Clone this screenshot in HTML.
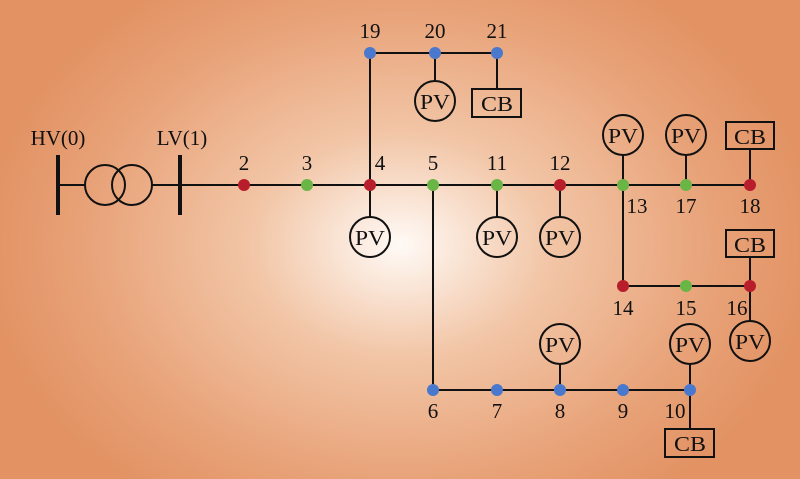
<!DOCTYPE html>
<html><head><meta charset="utf-8"><style>
html,body{margin:0;padding:0;width:800px;height:479px;overflow:hidden}
text{font-family:"Liberation Serif",serif;font-size:21px;fill:#111}
</style></head><body>
<svg width="800" height="479" viewBox="0 0 800 479" xmlns="http://www.w3.org/2000/svg">
<defs>
<radialGradient id="bg" cx="400" cy="245" r="420" gradientUnits="userSpaceOnUse" gradientTransform="translate(400 245) scale(1 0.75) translate(-400 -245)">
<stop offset="0" stop-color="#fffaf6"/>
<stop offset="0.35" stop-color="#f2c6a7"/>
<stop offset="0.75" stop-color="#e8a278"/>
<stop offset="1" stop-color="#e29263"/>
</radialGradient>
</defs>
<rect width="800" height="479" fill="url(#bg)"/>
<g stroke="#111" stroke-width="2" fill="none">
<line x1="58" y1="155" x2="58" y2="215" stroke-width="4"/>
<line x1="180" y1="155" x2="180" y2="215" stroke-width="4"/>
<line x1="58" y1="185" x2="85" y2="185"/>
<circle cx="105" cy="185" r="20"/>
<circle cx="132" cy="185" r="20"/>
<line x1="152" y1="185" x2="750" y2="185"/>
<line x1="370" y1="185" x2="370" y2="53"/>
<line x1="370" y1="53" x2="497" y2="53"/>
<line x1="435" y1="53" x2="435" y2="81"/>
<circle cx="435" cy="101" r="20"/>
<line x1="497" y1="53" x2="497" y2="89"/>
<rect x="472" y="89" width="49" height="28"/>
<line x1="370" y1="185" x2="370" y2="217"/><circle cx="370" cy="237" r="20"/>
<line x1="497" y1="185" x2="497" y2="217"/><circle cx="497" cy="237" r="20"/>
<line x1="560" y1="185" x2="560" y2="217"/><circle cx="560" cy="237" r="20"/>
<circle cx="623" cy="135" r="20"/><line x1="623" y1="155" x2="623" y2="185"/>
<circle cx="686" cy="135" r="20"/><line x1="686" y1="155" x2="686" y2="185"/>
<rect x="726" y="122" width="48" height="27"/><line x1="750" y1="149" x2="750" y2="185"/>
<line x1="623" y1="185" x2="623" y2="286"/>
<line x1="623" y1="286" x2="750" y2="286"/>
<rect x="726" y="230" width="48" height="27"/><line x1="750" y1="257" x2="750" y2="321"/>
<circle cx="750" cy="341" r="20"/>
<line x1="433" y1="185" x2="433" y2="390"/>
<line x1="433" y1="390" x2="690" y2="390"/>
<circle cx="560" cy="344" r="20"/><line x1="560" y1="364" x2="560" y2="390"/>
<circle cx="690" cy="344" r="20"/><line x1="690" y1="364" x2="690" y2="429"/>
<rect x="665" y="429" width="49" height="28"/>
</g>
<g fill="#b81d2b">
<circle cx="244" cy="185" r="6"/><circle cx="370" cy="185" r="6"/><circle cx="560" cy="185" r="6"/>
<circle cx="750" cy="185" r="6"/><circle cx="623" cy="286" r="6"/><circle cx="750" cy="286" r="6"/>
</g>
<g fill="#69b545">
<circle cx="307" cy="185" r="6"/><circle cx="433" cy="185" r="6"/><circle cx="497" cy="185" r="6"/>
<circle cx="623" cy="185" r="6"/><circle cx="686" cy="185" r="6"/><circle cx="686" cy="286" r="6"/>
</g>
<g fill="#4a78cc">
<circle cx="370" cy="53" r="6"/><circle cx="435" cy="53" r="6"/><circle cx="497" cy="53" r="6"/>
<circle cx="433" cy="390" r="6"/><circle cx="497" cy="390" r="6"/><circle cx="560" cy="390" r="6"/>
<circle cx="623" cy="390" r="6"/><circle cx="690" cy="390" r="6"/>
</g>
<g text-anchor="middle">
<text x="58" y="145">HV(0)</text>
<text x="182" y="145">LV(1)</text>
<text x="244" y="170">2</text><text x="307" y="170">3</text><text x="380" y="170">4</text>
<text x="433" y="170">5</text><text x="497" y="170">11</text><text x="560" y="170">12</text>
<text x="637" y="213">13</text><text x="686" y="213">17</text><text x="750" y="213">18</text>
<text x="370" y="38">19</text><text x="435" y="38">20</text><text x="497" y="38">21</text>
<text x="623" y="315">14</text><text x="686" y="315">15</text><text x="737" y="315">16</text>
<text x="433" y="418">6</text><text x="497" y="418">7</text><text x="560" y="418">8</text>
<text x="623" y="418">9</text><text x="675" y="418">10</text>
</g>
<g text-anchor="middle" style="font-size:23px">
<text x="435" y="109" textLength="30" lengthAdjust="spacingAndGlyphs">PV</text><text x="497" y="111" textLength="32" lengthAdjust="spacingAndGlyphs">CB</text>
<text x="370" y="245" textLength="30" lengthAdjust="spacingAndGlyphs">PV</text><text x="497" y="245" textLength="30" lengthAdjust="spacingAndGlyphs">PV</text><text x="560" y="245" textLength="30" lengthAdjust="spacingAndGlyphs">PV</text>
<text x="623" y="143" textLength="30" lengthAdjust="spacingAndGlyphs">PV</text><text x="686" y="143" textLength="30" lengthAdjust="spacingAndGlyphs">PV</text><text x="750" y="144" textLength="32" lengthAdjust="spacingAndGlyphs">CB</text>
<text x="750" y="252" textLength="32" lengthAdjust="spacingAndGlyphs">CB</text><text x="750" y="349" textLength="30" lengthAdjust="spacingAndGlyphs">PV</text>
<text x="560" y="352" textLength="30" lengthAdjust="spacingAndGlyphs">PV</text><text x="690" y="352" textLength="30" lengthAdjust="spacingAndGlyphs">PV</text><text x="690" y="451" textLength="32" lengthAdjust="spacingAndGlyphs">CB</text>
</g>
</svg>
</body></html>
